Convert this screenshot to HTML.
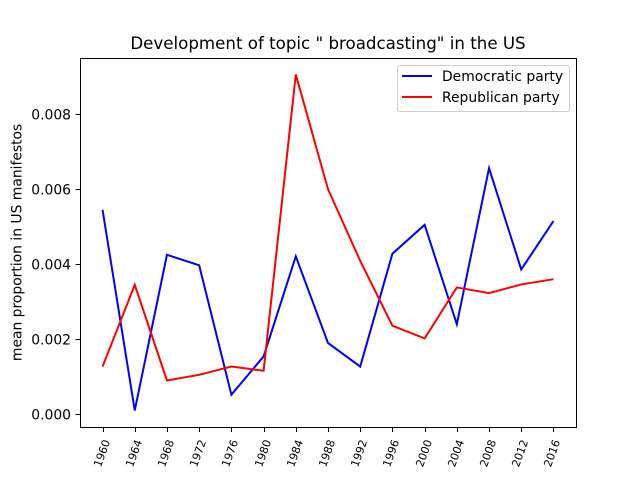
<!DOCTYPE html>
<html lang="en">
<head>
<meta charset="utf-8">
<title>Development of topic " broadcasting" in the US</title>
<style>
html,body{margin:0;padding:0;background:#fff;}
svg{display:block;font-family:"DejaVu Sans",sans-serif;fill:#000;}
</style>
</head>
<body>
<svg id="chart" width="640" height="480" viewBox="0 0 640 480" xmlns="http://www.w3.org/2000/svg">
<rect x="0" y="0" width="640" height="480" fill="#fff"/>
<text x="328" y="49" font-size="16.67px" text-anchor="middle">Development of topic " broadcasting" in the US</text>
<text transform="translate(21.5,242.4) rotate(-90)" font-size="13.89px" text-anchor="middle">mean proportion in US manifestos</text>
<g id="ticks"></g>
<g id="series"></g>
<rect x="80.5" y="58.5" width="496" height="369" fill="none" stroke="#000" stroke-width="1"/>
<g>
<rect x="397.5" y="65.5" width="172" height="46" rx="2.5" fill="#fff" fill-opacity="0.8" stroke="#ccc" stroke-width="1"/>
<line x1="402" y1="76" x2="432" y2="76" stroke="#0000ff" stroke-width="2"/>
<text x="442" y="81" font-size="13.89px">Democratic party</text>
<line x1="402" y1="97" x2="432" y2="97" stroke="#ff0000" stroke-width="2"/>
<text x="442" y="102" font-size="13.89px">Republican party</text>
</g>
</svg>
<script>
const years = [1960,1964,1968,1972,1976,1980,1984,1988,1992,1996,2000,2004,2008,2012,2016];
const democratic = [0.00545,0.00010,0.00425,0.00397,0.00052,0.00154,0.00421,0.00190,0.00127,0.00428,0.00505,0.00240,0.00656,0.00386,0.00515];
const republican = [0.00127,0.00345,0.00090,0.00105,0.00127,0.00116,0.00906,0.00600,0.00409,0.00236,0.00202,0.00338,0.00323,0.00346,0.00360];
const yTicks = [0,0.002,0.004,0.006,0.008];

const NS = 'http://www.w3.org/2000/svg';
const xScale = function (year) {
  return 102.55 + (year - 1960) * (553.45 - 102.55) / 56;
};
const yScale = function (value) {
  return 414.2 - value * 37500;
};
const ticks = document.getElementById('ticks');
const series = document.getElementById('series');

function make(tag, parent) {
  const el = document.createElementNS(NS, tag);
  parent.appendChild(el);
  return el;
}

years.forEach(function (year) {
  const x = Math.round(xScale(year)) + 0.5;
  const mark = make('line', ticks);
  
  
  mark.setAttribute('x1', x);
  mark.setAttribute('x2', x);
  mark.setAttribute('y1', 427.5);
  mark.setAttribute('y2', 432);
  mark.setAttribute('stroke', '#000');
  mark.setAttribute('stroke-width', '1');
  const label = make('text', ticks);
  
  
  label.setAttribute('transform', 'translate(' + (x - 1.6) + ',453.3) rotate(-70)');
  label.setAttribute('y', '3.8');
  label.setAttribute('font-size', '11px');
  label.setAttribute('text-anchor', 'middle');
  label.textContent = String(year);
});

yTicks.forEach(function (value) {
  const y = Math.round(yScale(value)) + 0.5;
  const mark = make('line', ticks);
  
  
  mark.setAttribute('x1', 75.6);
  mark.setAttribute('x2', 80.5);
  mark.setAttribute('y1', y);
  mark.setAttribute('y2', y);
  mark.setAttribute('stroke', '#000');
  mark.setAttribute('stroke-width', '1');
  const label = make('text', ticks);
  
  
  label.setAttribute('x', 71);
  label.setAttribute('y', y + 5);
  label.setAttribute('font-size', '13.89px');
  label.setAttribute('text-anchor', 'end');
  label.textContent = value.toFixed(3);
});

function points(values) {
  return values.map(function (value, i) {
    return xScale(years[i]).toFixed(2) + ',' + yScale(value).toFixed(2);
  }).join(' ');
}

const demLine = make('polyline', series);


demLine.setAttribute('points', points(democratic));
demLine.setAttribute('fill', 'none');
demLine.setAttribute('stroke', '#0000ff');
demLine.setAttribute('stroke-width', '2');

const repLine = make('polyline', series);


repLine.setAttribute('points', points(republican));
repLine.setAttribute('fill', 'none');
repLine.setAttribute('stroke', '#ff0000');
repLine.setAttribute('stroke-width', '2');
</script>
</body>
</html>
